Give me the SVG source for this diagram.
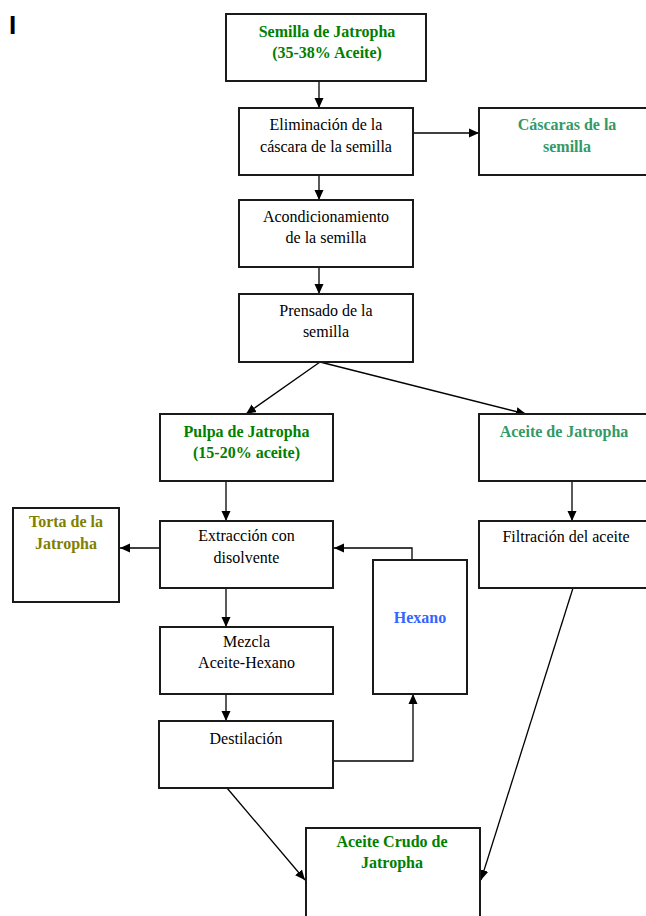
<svg xmlns="http://www.w3.org/2000/svg" width="646" height="916" viewBox="0 0 646 916">
<style>
.box{fill:#fff;stroke:#1a1a1a;stroke-width:2}
.t{font-family:"Liberation Serif","Times New Roman",serif;font-size:16px;text-anchor:middle;fill:#000}
.b{font-weight:bold}
.g{fill:#008000}
.tg{fill:#339966}
.ol{fill:#808000}
.bl{fill:#3366ff}
.c{fill:none;stroke:#000;stroke-width:1.3}
</style>
<defs>
<marker id="ah" markerUnits="userSpaceOnUse" markerWidth="11" markerHeight="11" refX="10" refY="5" orient="auto">
<path d="M0,0.5 L10,5 L0,9.5 z" fill="#000"/>
</marker>
</defs>
<rect width="646" height="916" fill="#fff"/>
<text x="9" y="34" font-family="Liberation Sans, Arial, sans-serif" font-size="26" font-weight="bold">I</text>
<g id="connectors">
<path class="c" d="M319,81 V108" marker-end="url(#ah)"/>
<path class="c" d="M413,133 H479" marker-end="url(#ah)"/>
<path class="c" d="M319,175 V200" marker-end="url(#ah)"/>
<path class="c" d="M319,267 V294" marker-end="url(#ah)"/>
<path class="c" d="M320,362 L246,414" marker-end="url(#ah)"/>
<path class="c" d="M320,362 L526,414" marker-end="url(#ah)"/>
<path class="c" d="M226,481 V521" marker-end="url(#ah)"/>
<path class="c" d="M572,481 V521" marker-end="url(#ah)"/>
<path class="c" d="M160,548 H120" marker-end="url(#ah)"/>
<path class="c" d="M412,560 V548 H334" marker-end="url(#ah)"/>
<path class="c" d="M226,588 V627" marker-end="url(#ah)"/>
<path class="c" d="M226,694 V721" marker-end="url(#ah)"/>
<path class="c" d="M333,761 H413 V694" marker-end="url(#ah)"/>
<path class="c" d="M227,788 L305,880" marker-end="url(#ah)"/>
<path class="c" d="M573,588 L481,880" marker-end="url(#ah)"/>
</g>
<g id="semilla">
<rect class="box" x="226" y="14" width="200" height="67"/>
<text class="t b g" x="327" y="37">Semilla de Jatropha</text>
<text class="t b g" x="327" y="58">(35-38% Aceite)</text>
</g>
<g id="eliminacion">
<rect class="box" x="239" y="108" width="174" height="67"/>
<text class="t" x="326" y="130">Eliminación de la</text>
<text class="t" x="326" y="152">cáscara de la semilla</text>
</g>
<g id="cascaras">
<rect class="box" x="479" y="108" width="180" height="67"/>
<text class="t b tg" x="567" y="130">Cáscaras de la</text>
<text class="t b tg" x="567" y="152">semilla</text>
</g>
<g id="acondicionamiento">
<rect class="box" x="239" y="200" width="174" height="67"/>
<text class="t" x="326" y="222">Acondicionamiento</text>
<text class="t" x="326" y="243">de la semilla</text>
</g>
<g id="prensado">
<rect class="box" x="239" y="294" width="174" height="68"/>
<text class="t" x="326" y="316">Prensado de la</text>
<text class="t" x="326" y="337">semilla</text>
</g>
<g id="pulpa">
<rect class="box" x="160" y="414" width="173" height="67"/>
<text class="t b g" x="246.5" y="437">Pulpa de Jatropha</text>
<text class="t b g" x="246.5" y="458">(15-20% aceite)</text>
</g>
<g id="aceite">
<rect class="box" x="479" y="414" width="180" height="67"/>
<text class="t b tg" x="564" y="437">Aceite de Jatropha</text>
</g>
<g id="torta">
<rect class="box" x="13" y="508" width="106" height="94"/>
<text class="t b ol" x="66" y="527">Torta de la</text>
<text class="t b ol" x="66" y="549">Jatropha</text>
</g>
<g id="extraccion">
<rect class="box" x="160" y="521" width="173" height="67"/>
<text class="t" x="246.5" y="541">Extracción con</text>
<text class="t" x="246.5" y="563">disolvente</text>
</g>
<g id="filtracion">
<rect class="box" x="479" y="521" width="180" height="67"/>
<text class="t" x="566" y="542">Filtración del aceite</text>
</g>
<g id="hexano">
<rect class="box" x="373" y="560" width="94" height="134"/>
<text class="t b bl" x="420" y="623">Hexano</text>
</g>
<g id="mezcla">
<rect class="box" x="160" y="627" width="173" height="67"/>
<text class="t" x="246.5" y="647">Mezcla</text>
<text class="t" x="246.5" y="668">Aceite-Hexano</text>
</g>
<g id="destilacion">
<rect class="box" x="159" y="721" width="174" height="67"/>
<text class="t" x="246" y="744">Destilación</text>
</g>
<g id="crudo">
<rect class="box" x="306" y="828" width="174" height="100"/>
<text class="t b g" x="392" y="847">Aceite Crudo de</text>
<text class="t b g" x="392" y="868">Jatropha</text>
</g>
</svg>
